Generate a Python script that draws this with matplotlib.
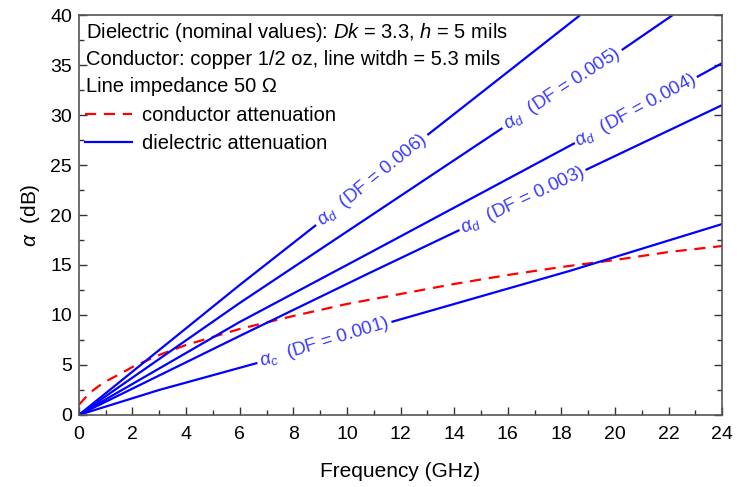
import numpy as np
import matplotlib
matplotlib.use("Agg")
import matplotlib.pyplot as plt
from matplotlib.lines import Line2D
from matplotlib.ticker import MultipleLocator

plt.rcParams['font.family'] = ['Liberation Sans', 'DejaVu Sans']
plt.rcParams['mathtext.fontset'] = 'custom'
plt.rcParams['mathtext.rm'] = 'Liberation Sans'
plt.rcParams['mathtext.it'] = 'Liberation Sans:italic'
plt.rcParams['mathtext.bf'] = 'Liberation Sans:bold'

# conductor attenuation (dB) vs frequency (GHz)
cond_f = [0, 0.4, 0.9, 1.6, 2, 3, 4, 6, 8, 10, 12, 14, 16, 18, 20, 22, 24]
cond_a = [1.0, 2.2, 3.2, 4.2, 4.8, 6.0, 7.0, 8.6, 9.9, 11.1, 12.1, 13.1, 14.0, 14.8, 15.5, 16.3, 16.9]

# dielectric attenuation for each DF
f_df001 = [0, 3, 6.66, 11.66, 18.3, 24]
a_df001 = [0, 2.5, 5.2, 9.3, 14.4, 19.1]
f_df003 = [0, 6, 10.84, 14.2, 18.9, 24]
a_df003 = [0, 7.9, 14.2, 18.5, 24.5, 31.0]
f_df004 = [0, 6, 10.84, 18.5, 23.05, 24]
a_df004 = [0, 9.3, 16.2, 27.2, 33.8, 35.2]
f_df005 = [0, 6, 15.8, 20.25, 22.15]
a_df005 = [0, 11.2, 28.7, 36.5, 40.0]
f_df006 = [0, 6, 8.85, 13.0, 18.7]
a_df006 = [0, 13.0, 19.0, 28.0, 40.0]

df_labels = ['0.001', '0.003', '0.004', '0.005', '0.006']
df_subs = ['c', 'd', 'd', 'd', 'd']
# the label sits between point gap[i] and gap[i] + 1
label_gap = [2, 3, 3, 2, 2]

info_lines = [
    "Dielectric (nominal values): $Dk$ = 3.3, $h$ = 5 mils",
    "Conductor: copper 1/2 oz, line witdh = 5.3 mils",
    "Line impedance 50 \u03a9",
]

curves = [(f_df001, a_df001), (f_df003, a_df003), (f_df004, a_df004),
          (f_df005, a_df005), (f_df006, a_df006)]

fig = plt.figure(figsize=(7.37, 4.87), dpi=100)
ax = fig.add_axes([0.107, 0.148, 0.873, 0.821])

ax.plot(cond_f, cond_a, color='#ff0000', lw=1.6, ls=(0, (5, 3.5)))

for (f, a), lab, sub, g in zip(curves, df_labels, df_subs, label_gap):
    ax.plot(f[:g + 1], a[:g + 1], color='#0000ff', lw=1.6, solid_capstyle='butt')
    ax.plot(f[g + 1:], a[g + 1:], color='#0000ff', lw=1.6, solid_capstyle='butt')
    xc = (f[g] + f[g + 1]) / 2
    yc = (a[g] + a[g + 1]) / 2
    ang = np.degrees(np.arctan2(a[g + 1] - a[g], f[g + 1] - f[g]))
    ax.text(xc, yc, r"$\alpha_{%s}$  (DF = %s)" % (sub, lab), color='#3a3aff',
            fontsize=13.5, ha='center', va='center', rotation=ang,
            rotation_mode='anchor', transform_rotates_text=True)

ax.set_xlim(0, 24)
ax.set_ylim(0, 40)
ax.xaxis.set_major_locator(MultipleLocator(2))
ax.xaxis.set_minor_locator(MultipleLocator(1))
ax.yaxis.set_major_locator(MultipleLocator(5))
ax.yaxis.set_minor_locator(MultipleLocator(2.5))
ax.tick_params(which='both', direction='in', labelsize=14, colors='#333333',
               labelcolor='black', right=True, top=False)
ax.tick_params(which='major', length=6, width=1)
ax.tick_params(which='minor', length=3.5, width=1)
ax.tick_params(axis='x', which='major', pad=8)
ax.tick_params(axis='y', which='major', pad=5)
for sp in ax.spines.values():
    sp.set_color('#555555')
    sp.set_linewidth(1.2)

ax.set_xlabel("Frequency (GHz)", fontsize=15, labelpad=14)
ax.set_ylabel(r"$\alpha$  (dB)", fontsize=15, labelpad=6)

for i, line in enumerate(info_lines):
    ax.text(0.011, 0.9575 - i * 0.0675, line, transform=ax.transAxes,
            fontsize=14.5, va='center', ha='left')

handles = [Line2D([], [], color='#ff0000', lw=1.6, ls=(0, (5, 3.5))),
           Line2D([], [], color='#0000ff', lw=1.6)]
ax.legend(handles, ["conductor attenuation", "dielectric attenuation"],
          loc='upper left', bbox_to_anchor=(0.01, 0.772), frameon=False,
          fontsize=14.5, handlelength=2.3, handletextpad=0.5, labelspacing=0.42,
          borderaxespad=0, borderpad=0)

fig.savefig("out.png", dpi=100)
